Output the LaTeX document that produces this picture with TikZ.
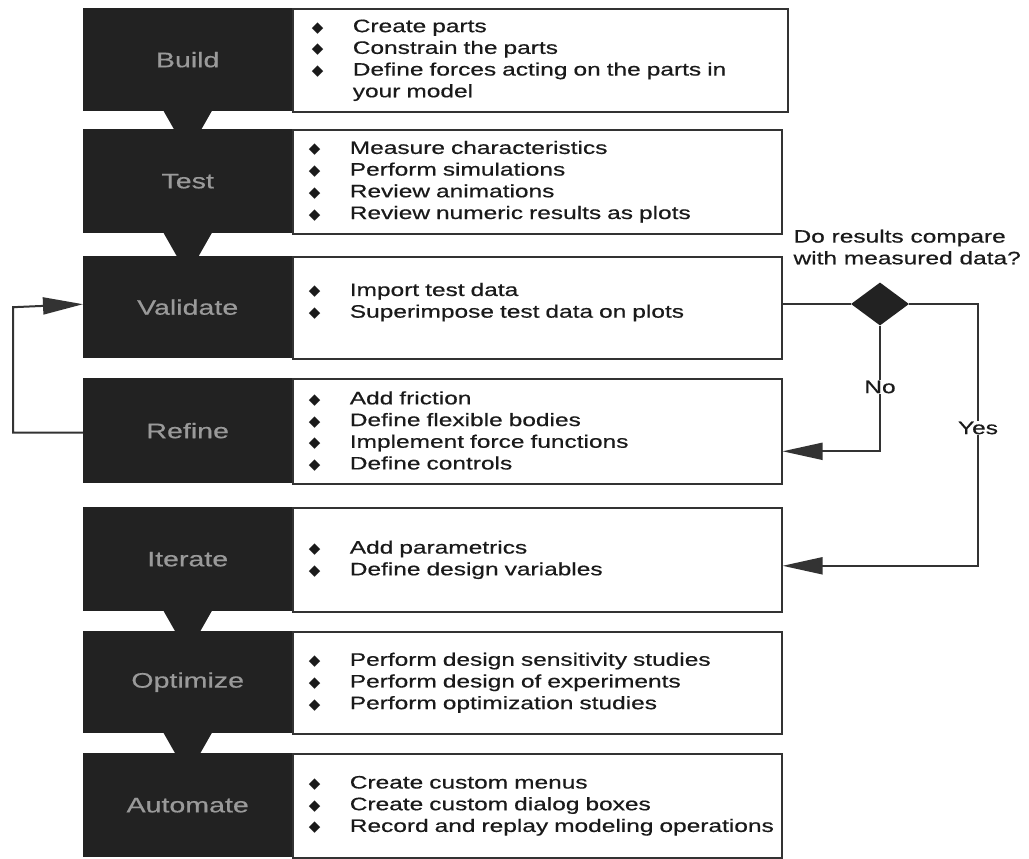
\documentclass[tikz,border=0pt]{standalone}
\usepackage{fontspec}
\setmainfont{Liberation Sans}[FakeStretch=1.36,FakeBold=0.5]
\newfontfamily\bulfont{DejaVu Sans}
\usetikzlibrary{arrows.meta,shapes.geometric}
\definecolor{dk}{HTML}{222222}
\definecolor{lblgray}{HTML}{9A9A9A}
\definecolor{edge}{HTML}{333333}
\definecolor{txt}{HTML}{1A1A1A}
\newcommand\bul{\makebox[55pt][l]{\hspace{14pt}{\bulfont\fontsize{15}{15}\selectfont ◆}}}
\newcommand\cont{\hspace*{55pt}}
\tikzset{
  dbox/.style={fill=dk, draw=none, anchor=north west, minimum width=209pt, inner sep=0pt,
    text=lblgray, font=\fontsize{21}{24}\selectfont},
  wbox/.style={draw=edge, line width=1.6pt, fill=white, anchor=north west, minimum width=489pt,
    text width=485pt, inner xsep=2pt, inner ysep=0pt, align=left, text=txt,
    font=\fontsize{18}{21.7}\selectfont},
  arr/.style={draw=edge, line width=2pt, -{Triangle[length=40pt,width=17pt]}},
  ln/.style={draw=edge, line width=2pt},
  lbl/.style={fill=white, inner sep=1pt, text=txt, font=\fontsize{18}{21.7}\selectfont},
  dec/.style={diamond, fill=dk, draw=none, minimum width=58pt, minimum height=43pt, inner sep=0pt, aspect=1.35},
}
\begin{document}
\begin{tikzpicture}[x=1pt,y=-1pt]
\useasboundingbox[fill=white] (0,0) rectangle (1029,859);
% white boxes
\node[wbox, minimum width=495pt, minimum height=103pt] (bW) at (292,8)
  {\bul Create parts\\ \bul Constrain the parts\\ \bul Define forces acting on the parts in\\ \cont your model};
\node[wbox, minimum height=104pt] (tW) at (292,129)
  {\bul Measure characteristics\\ \bul Perform simulations\\ \bul Review animations\\ \bul Review numeric results as plots};
\node[wbox, minimum height=102pt] (vW) at (292,256)
  {\bul Import test data\\ \bul Superimpose test data on plots\\[-6.7pt]\mbox{}};
\node[wbox, minimum height=105pt] (rW) at (292,378)
  {\bul Add friction\\ \bul Define flexible bodies\\ \bul Implement force functions\\ \bul Define controls};
\node[wbox, minimum height=104pt] (iW) at (292,507)
  {\bul Add parametrics\\ \bul Define design variables};
\node[wbox, minimum height=102pt] (oW) at (292,631)
  {\bul Perform design sensitivity studies\\ \bul Perform design of experiments\\ \bul Perform optimization studies};
\node[wbox, minimum height=104pt] (aW) at (292,753)
  {\bul Create custom menus\\ \bul Create custom dialog boxes\\ \bul Record and replay modeling operations};
% dark boxes
\node[dbox, minimum height=103pt] (bD) at (83,8) {Build};
\node[dbox, minimum height=104pt] (tD) at (83,129) {Test};
\node[dbox, minimum height=102pt] (vD) at (83,256) {Validate};
\node[dbox, minimum height=105pt] (rD) at (83,378) {Refine};
\node[dbox, minimum height=104pt] (iD) at (83,507) {Iterate};
\node[dbox, minimum height=102pt] (oD) at (83,631) {Optimize};
\node[dbox, minimum height=104pt] (aD) at (83,753) {Automate};
% funnel triangles
\foreach \n in {bD,tD,iD,oD}{
  \fill[dk] ([xshift=-25pt,yshift=2pt]\n.south) -- ([xshift=25pt,yshift=2pt]\n.south) -- ([yshift=-42pt]\n.south) -- cycle;
}
% decision
\node[dec] (dia) at (880,304) {};
\node[anchor=west, align=left, text=txt, font=\fontsize{18}{21.7}\selectfont] (q) at (790,247)
  {Do results compare\\with measured data?};
\draw[ln] (vW.east |- dia.west) -- (dia.west);
\draw[arr] (dia.south) |- ([yshift=-20pt]rW.east);
\coordinate (yc) at (978,304);
\draw[arr] (dia.east) -- (yc) |- ([yshift=-6pt]iW.east);
\node[lbl] (no) at (880,387) {No};
\node[lbl] (yes) at (978,428) {Yes};
% loop back
\coordinate (lc) at (13,0);
\draw[arr] ([yshift=-2pt]rD.west) -| (lc |- vD.west) -- ([yshift=3pt]vD.west);
\end{tikzpicture}
\end{document}
